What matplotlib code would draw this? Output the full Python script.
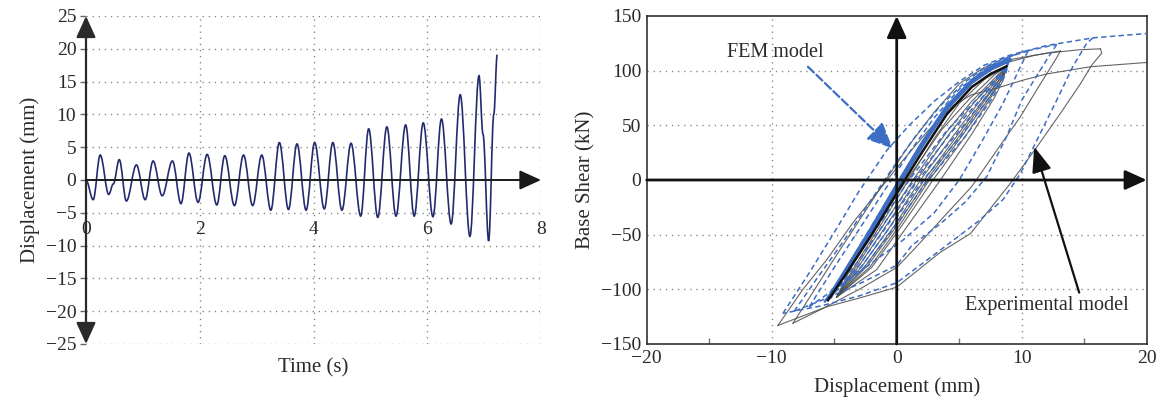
import numpy as np
import matplotlib.pyplot as plt
from matplotlib.path import Path
from matplotlib.patches import PathPatch

plt.rcParams['font.family'] = ['Liberation Serif', 'DejaVu Serif']

# ---- displacement history: turning points (s, mm)
t_pts = [0.00, 0.126, 0.25, 0.40, 0.48, 0.585, 0.71, 0.887, 1.04, 1.18, 1.34, 1.52,
         1.67, 1.81, 1.97, 2.13, 2.30, 2.44, 2.61, 2.77, 2.93, 3.09, 3.25, 3.40,
         3.56, 3.71, 3.87, 4.02, 4.19, 4.34, 4.50, 4.66, 4.83, 4.97, 5.13, 5.29,
         5.45, 5.62, 5.77, 5.93, 6.10, 6.25, 6.42, 6.58, 6.75, 6.91, 6.98, 7.08,
         7.17, 7.23]
d_pts = [0.0, -3.0, 3.8, -2.2, -0.6, 3.1, -3.2, 2.3, -3.0, 2.9, -2.4, 2.9,
         -3.6, 4.1, -3.4, 3.9, -3.8, 3.7, -3.9, 3.8, -3.9, 3.8, -4.6, 5.7,
         -4.5, 5.5, -4.6, 5.7, -4.4, 5.7, -4.6, 5.6, -5.5, 7.8, -5.7, 8.1,
         -5.5, 8.4, -5.5, 8.7, -5.6, 9.3, -6.7, 13.0, -8.6, 15.9, 7.0, -9.3,
         10.0, 19.1]

# ---- hysteresis branches (mm, kN)
# experimental
exp_core_x = [-5.5, -4, -2, 0, 2, 4, 6, 7.5, 8.8]
exp_core_y = [-110, -85, -50, -12, 25, 60, 85, 97, 104]
exp_unload = [
    ([8.8, 7.8, 5.8, 3.6, 0.8, -1.4, -3.3, -4.8], [104, 96, 74, 46, 0, -38, -72, -107]),
    ([8.8, 8.0, 6.0, 4.0, 1.3, -1.0, -3.0, -4.8], [104, 95, 72, 44, 0, -40, -75, -107]),
    ([8.8, 8.1, 6.2, 4.2, 1.6, -0.8, -2.8, -4.8], [104, 94, 71, 42, 0, -41, -75, -107]),
    ([8.8, 8.2, 6.5, 4.5, 1.9, -0.5, -2.6, -4.8], [104, 94, 70, 40, 0, -42, -76, -107]),
    ([8.8, 8.3, 6.8, 4.8, 2.2, -0.2, -2.4, -4.8], [104, 93, 71, 40, 0, -42, -77, -107]),
    ([8.8, 8.3, 7.0, 5.0, 2.4, 0.0, -2.3, -4.8], [104, 93, 72, 40, 0, -42, -78, -107]),
    ([8.8, 8.4, 7.2, 5.2, 2.6, 0.2, -2.1, -4.8], [104, 92, 72, 40, 0, -42, -79, -107]),
    ([8.8, 8.4, 7.4, 5.5, 2.9, 0.4, -2.0, -4.8], [104, 92, 73, 40, 0, -42, -80, -107]),
    ([8.8, 8.5, 7.8, 6.0, 3.5, 0.8, -1.6, -4.8], [104, 91, 75, 42, 0, -43, -82, -107]),
]
exp_loops = [
    ([-5.5, -3, -1, 1, 3, 5, 7, 9, 11, 13.1],
     [-110, -66, -28, 10, 48, 80, 98, 108, 114, 118]),
    ([-4.8, -3, -1, 1, 3, 5, 7, 8.8],
     [-107, -72, -36, 1, 38, 70, 92, 104]),
    ([13.1, 12.7, 11.5, 9.9, 8.0, 6.0, 3.5, 1.5, 0, -3, -6, -8.3],
     [118, 110, 88, 58, 27, -6, -37, -62, -80, -100, -118, -131]),
    ([-8.3, -7, -5, -3, -1, 1, 3, 5, 7, 9, 12, 14.5, 16.3],
     [-131, -108, -72, -37, -2, 32, 62, 88, 103, 110, 116, 119, 120]),
    ([16.3, 16.4, 15.6, 14.7, 13.1, 11.2, 9.1, 5.9, 3.5, 0, -3, -5.6, -9.5],
     [120, 116, 105, 88, 61, 30, -3, -49, -66, -98, -108, -116, -133]),
    ([-9.5, -7.5, -5.6, -3.5, -1.6, 0.5, 2.5, 4.5, 6.0, 8.0, 10, 12, 15.5, 20],
     [-133, -100, -73, -39, -12, 18, 45, 68, 78, 84, 91, 97, 103.6, 107.5]),
]

# finite element model
fem_core_x = [-5.3, -4, -2, 0, 2, 4, 6, 7.5, 9]
fem_core_y = [-106, -82, -45, -6, 32, 66, 90, 102, 110]
fem_band_x = [-5.8, -4.5, -2.5, -0.5, 1.5, 3.5, 5.5, 7.0, 8.5]
fem_band_y = [-112, -90, -52, -14, 24, 58, 84, 98, 107]
fem_unload = [
    ([9, 8.3, 6.5, 4, 1.0, -1.5, -3.5, -5.3], [110, 98, 75, 45, 0, -42, -75, -106]),
    ([9, 8.4, 6.8, 4.4, 1.4, -1.2, -3.2, -5.3], [110, 98, 75, 44, 0, -43, -76, -106]),
    ([9, 8.5, 7.0, 4.8, 1.7, -0.9, -3.0, -5.3], [110, 97, 74, 42, 0, -44, -78, -106]),
    ([9, 8.6, 7.3, 5.2, 2.1, -0.6, -2.8, -5.3], [110, 96, 74, 41, 0, -44, -79, -106]),
    ([9, 8.7, 7.6, 5.5, 2.5, -0.3, -2.6, -5.3], [110, 96, 74, 40, 0, -45, -80, -106]),
]
fem_loops = [
    ([-7, -5, -3, -1, 1, 3, 5, 7, 8.5, 10.5],
     [-116, -80, -45, -10, 25, 57, 83, 101, 111, 118]),
    ([10.5, 10.0, 8.5, 6.8, 5.0, 3.0, 0.5, -2.5, -5, -7],
     [118, 106, 70, 35, 0, -30, -55, -80, -100, -116]),
    ([-8.2, -6.5, -4.5, -2.5, -0.5, 1.5, 3.5, 5.5, 7.5, 10, 12.8],
     [-120, -92, -60, -26, 8, 40, 68, 90, 106, 117, 124]),
    ([12.8, 12.0, 10.0, 8.8, 7.2, 5.5, 3.5, 1.2, 0, -3, -6, -8.2],
     [124, 110, 73, 40, 3, -20, -40, -60, -78, -95, -110, -120]),
    ([15.7, 15.2, 14.1, 12.8, 11.5, 9.9, 8.5, 6.5, 3.5, 0, -3, -6, -9.1],
     [130, 125, 104, 73, 43, 6, -18, -38, -64, -94, -106, -115, -122]),
    ([-9.1, -7, -5, -3, -0.8, 1, 3, 5, 7, 9, 12, 15.7, 20],
     [-122, -85, -48, -10, 27, 50, 72, 90, 105, 114, 123, 130, 134]),
]

W, H = 1160, 409
fig = plt.figure(figsize=(W / 100, H / 100), dpi=100)
grid_kw = dict(color='#808080', lw=1.0, linestyle=(0, (0.9, 3.5)), zorder=0)
tick_fs = 14
lab_fs = 15

# ================= left: displacement vs time =================
ax1 = fig.add_axes([86 / W, 1 - 344 / H, 455 / W, 328 / H])
ax1.set_xlim(0, 8)
ax1.set_ylim(-25, 25)
for s in ax1.spines.values():
    s.set_visible(False)

for yv in [-25, -20, -15, -10, -5, 5, 10, 15, 20, 25]:
    ax1.plot([0, 8], [yv, yv], **grid_kw)
for xv in [2, 4, 6, 8]:
    ax1.plot([xv, xv], [-25, 25], **grid_kw)

# smooth trace through turning points (horizontal tangents at each one)
verts = [(t_pts[0], d_pts[0])]
codes = [Path.MOVETO]
for i in range(1, len(t_pts)):
    t0, v0, t1, v1 = t_pts[i - 1], d_pts[i - 1], t_pts[i], d_pts[i]
    k = 0.36 * (t1 - t0)
    verts += [(t0 + k, v0), (t1 - k, v1), (t1, v1)]
    codes += [Path.CURVE4] * 3
ax1.add_patch(PathPatch(Path(verts, codes), fill=False, ec='#232b6e', lw=1.2, zorder=3))

ax1.annotate('', xy=(0, 25), xytext=(0, -25),
             arrowprops=dict(arrowstyle='<|-|>,head_length=1.1,head_width=0.5',
                             mutation_scale=12, color='#2a2a2a', lw=1.6,
                             shrinkA=0, shrinkB=0), zorder=4)
ax1.annotate('', xy=(8.0, 0), xytext=(0, 0),
             arrowprops=dict(arrowstyle='-|>,head_length=1.1,head_width=0.5',
                             mutation_scale=12, color='#1a1a1a', lw=1.4,
                             shrinkA=0, shrinkB=0), zorder=4)

ax1.set_xticks([])
ax1.set_yticks([-25, -20, -15, -10, -5, 0, 5, 10, 15, 20, 25])
ax1.set_yticklabels(['\u221225', '\u221220', '\u221215', '\u221210', '\u22125', '0',
                     '5', '10', '15', '20', '25'])
ax1.tick_params(axis='y', direction='out', length=4, width=1, color='#666666',
                labelsize=tick_fs, labelcolor='#2a2a2a', pad=3)
for xv in [0, 2, 4, 6, 8]:
    ax1.text(xv, -7.5, str(xv), ha='center', va='center', fontsize=tick_fs,
             color='#2a2a2a')
ax1.set_ylabel('Displacement (mm)', fontsize=lab_fs, color='#2a2a2a', labelpad=4)
fig.text(313 / W, 1 - 368 / H, 'Time (s)', ha='center', va='center',
         fontsize=lab_fs, color='#2a2a2a')

# ================= right: base shear vs displacement =================
ax2 = fig.add_axes([646.7 / W, 1 - 344 / H, 500 / W, 328 / H])
ax2.set_xlim(-20, 20)
ax2.set_ylim(-150, 150)
for s in ax2.spines.values():
    s.set_color('#222222')
    s.set_linewidth(1.1)

for yv in [-100, -50, 50, 100]:
    ax2.plot([-20, 20], [yv, yv], **grid_kw)
for xv in [-10, 10]:
    ax2.plot([xv, xv], [-150, 150], **grid_kw)

exp_kw = dict(color='#4a4a4a', lw=0.8, alpha=0.85, zorder=2)
for bx, by in exp_unload:
    ax2.plot(bx, by, **exp_kw)
for bx, by in exp_loops:
    ax2.plot(bx, by, **exp_kw)

fem_c = '#3d6ec4'
fem_kw = dict(color=fem_c, lw=1.1, linestyle=(0, (3.5, 2.2)), zorder=3)
for bx, by in fem_unload:
    ax2.plot(bx, by, **fem_kw)
for bx, by in fem_loops:
    ax2.plot(bx, by, **fem_kw)
ax2.plot(fem_band_x, fem_band_y, color=fem_c, lw=1.6, linestyle=(0, (3.5, 1.5)), zorder=3)
ax2.plot(fem_core_x, fem_core_y, color=fem_c, lw=3.4, zorder=3)
ax2.plot(exp_core_x, exp_core_y, color='#111111', lw=1.8, zorder=4)

ax2.annotate('', xy=(0, 150), xytext=(0, -150),
             arrowprops=dict(arrowstyle='-|>,head_length=1.1,head_width=0.5',
                             mutation_scale=12, color='#111111', lw=2.0,
                             shrinkA=0, shrinkB=0), zorder=6)
ax2.annotate('', xy=(20, 0), xytext=(-20, 0),
             arrowprops=dict(arrowstyle='-|>,head_length=1.1,head_width=0.5',
                             mutation_scale=12, color='#111111', lw=2.0,
                             shrinkA=0, shrinkB=0), zorder=6)

ax2.text(-9.7, 116.5, 'FEM model', ha='center', va='center', fontsize=14.5,
         color='#2a2a2a', zorder=7)
ax2.annotate('', xy=(-0.33, 29), xytext=(-7.1, 103.6),
             arrowprops=dict(arrowstyle='-|>,head_length=1.3,head_width=0.6',
                             mutation_scale=12, color=fem_c, lw=1.6,
                             linestyle='--', shrinkA=0, shrinkB=0), zorder=7)
ax2.text(12.0, -115, 'Experimental model', ha='center', va='center',
         fontsize=14.5, color='#2a2a2a', zorder=7)
ax2.annotate('', xy=(11.0, 30.5), xytext=(14.6, -103),
             arrowprops=dict(arrowstyle='-|>,head_length=1.3,head_width=0.5',
                             mutation_scale=12, color='#111111', lw=1.6,
                             shrinkA=0, shrinkB=0), zorder=7)

ax2.set_xticks([-20, -10, 0, 10, 20])
ax2.set_xticklabels(['\u221220', '\u221210', '0', '10', '20'])
ax2.set_xticks([-15, -10, -5, 5, 10, 15], minor=True)
ax2.set_yticks([-150, -100, -50, 0, 50, 100, 150])
ax2.set_yticklabels(['\u2212150', '\u2212100', '\u221250', '0', '50', '100', '150'])
ax2.tick_params(which='major', length=0, labelsize=tick_fs, labelcolor='#2a2a2a',
                pad=4)
ax2.tick_params(which='minor', axis='x', direction='in', length=4, width=1,
                color='#777777')
ax2.set_ylabel('Base Shear (kN)', fontsize=lab_fs, color='#2a2a2a', labelpad=4)
ax2.set_xlabel('Displacement (mm)', fontsize=lab_fs, color='#2a2a2a', labelpad=8)

fig.savefig('out.png', dpi=100, facecolor='white')
